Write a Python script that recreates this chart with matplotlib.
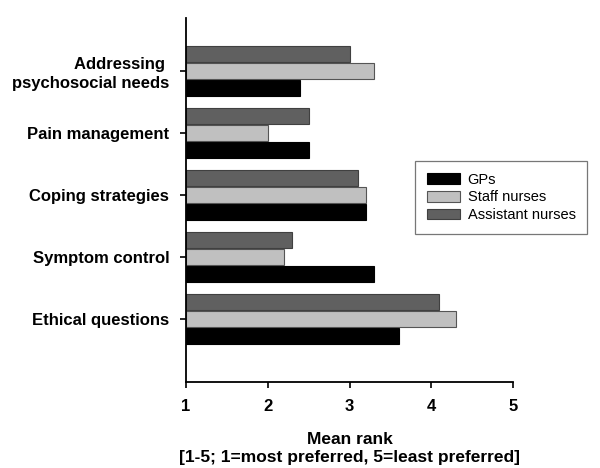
import matplotlib
matplotlib.use("Agg")
import matplotlib.pyplot as plt
import numpy as np

plt.rcParams['font.family'] = ['Liberation Sans', 'DejaVu Sans']

categories = ["Addressing \npsychosocial needs", "Pain management", "Coping strategies",
              "Symptom control", "Ethical questions"]
gps = [2.4, 2.5, 3.2, 3.3, 3.6]
staff_nurses = [3.3, 2.0, 3.2, 2.2, 4.3]
assistant_nurses = [3.0, 2.5, 3.1, 2.3, 4.1]
series_names = ["GPs", "Staff nurses", "Assistant nurses"]
xticks = [1, 2, 3, 4, 5]
xlabel = "Mean rank\n[1-5; 1=most preferred, 5=least preferred]"

fig = plt.figure(figsize=(6, 4.68), dpi=100)
ax = fig.add_axes([0.31, 0.1838, 0.545, 0.7777])

n = len(categories)
y = np.arange(n)[::-1]  # first category at top
h = 0.26
off = 0.275
base = 1
ax.barh(y - off, np.array(gps) - base, left=base, height=h, color='#000000',
        edgecolor='#000000', linewidth=0.8, label=series_names[0])
ax.barh(y, np.array(staff_nurses) - base, left=base, height=h, color='#c0c0c0',
        edgecolor='#555555', linewidth=0.8, label=series_names[1])
ax.barh(y + off, np.array(assistant_nurses) - base, left=base, height=h, color='#606060',
        edgecolor='#404040', linewidth=0.8, label=series_names[2])

ax.set_xlim(1, 5)
ax.set_ylim(-1.02, 4.85)
ax.set_xticks(xticks)
ax.set_xticklabels([str(t) for t in xticks], fontsize=12, fontweight='bold')
ax.set_yticks(y)
ax.set_yticklabels(categories, fontsize=12, fontweight='bold', ha='right', linespacing=1.3)
ax.tick_params(axis='both', direction='out', length=4, width=1.2, color='black')
ax.tick_params(axis='y', pad=8)
ax.tick_params(axis='x', pad=8)
for s in ['top', 'right']:
    ax.spines[s].set_visible(False)
for s in ['left', 'bottom']:
    ax.spines[s].set_linewidth(1.3)
ax.set_xlabel(xlabel, fontsize=12.5, fontweight='bold', labelpad=13, linespacing=1.25)

leg = ax.legend(loc='upper left', bbox_to_anchor=(0.692, 0.656), bbox_transform=fig.transFigure,
                fontsize=10.5, frameon=True, fancybox=False, edgecolor='#555555',
                handlelength=2.3, handleheight=0.75, labelspacing=0.25,
                borderpad=0.8, handletextpad=0.5, borderaxespad=0)
leg.get_frame().set_linewidth(0.9)

fig.savefig("out.png", dpi=100)
